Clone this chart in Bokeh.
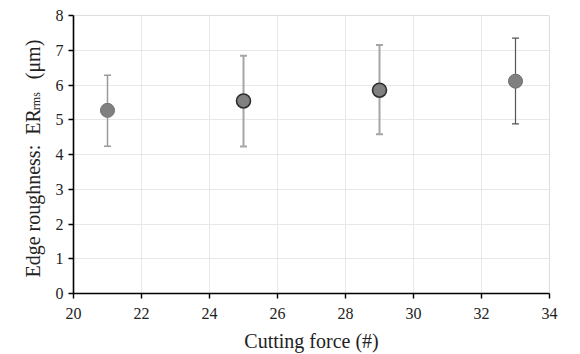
from bokeh.plotting import figure
from bokeh.layouts import row
from bokeh.models import Range1d, FixedTicker, ColumnDataSource
from bokeh.core.properties import value
from bokeh.embed import file_html
from bokeh.resources import INLINE
import math

# Data
force = [21, 25, 29, 33]
er_mean = [5.27, 5.54, 5.85, 6.11]
er_upper = [6.28, 6.84, 7.15, 7.35]
er_lower = [4.24, 4.23, 4.58, 4.88]
bar_colors = ["#9a9a9a", "#a6a6a6", "#a6a6a6", "#555555"]
bar_widths = [1.5, 2.0, 2.0, 1.2]
edge_colors = ["#6f6f6f", "#2e2e2e", "#2e2e2e", "#6f6f6f"]
edge_widths = [1.0, 1.6, 1.6, 1.0]
x_ticks = [20, 22, 24, 26, 28, 30, 32, 34]
y_ticks = [0, 1, 2, 3, 4, 5, 6, 7, 8]
ylabel_parts = ["Edge roughness:\u00a0\u00a0ER", "rms", "(\u03bcm)"]

FONT = "Liberation Serif"
TICK_FONT = "Times New Roman"
H = 354
LW = 50
TOP, BOTTOM = 15, 60
frame_h = H - TOP - BOTTOM
Y0, Y1 = 0, 8

p = figure(width=580 - 8 - LW, height=H, output_backend="svg", toolbar_location=None,
           x_range=Range1d(20, 34), y_range=Range1d(Y0, Y1),
           min_border_left=73 - LW, min_border_right=23, min_border_top=TOP, min_border_bottom=BOTTOM)

p.outline_line_color = "#dedede"
p.outline_line_width = 1

for g in (p.xgrid[0], p.ygrid[0]):
    g.grid_line_color = "#e8e8e8"
    g.grid_line_width = 1

p.xaxis.ticker = FixedTicker(ticks=x_ticks)
p.yaxis.ticker = FixedTicker(ticks=y_ticks)
p.xgrid.ticker = FixedTicker(ticks=x_ticks)
p.ygrid.ticker = FixedTicker(ticks=y_ticks)

for ax in (p.xaxis[0], p.yaxis[0]):
    ax.axis_line_color = "black"
    ax.axis_line_width = 1.6
    ax.major_tick_line_color = "black"
    ax.major_tick_line_width = 1.4
    ax.major_tick_out = 5
    ax.major_tick_in = 0
    ax.minor_tick_out = 0
    ax.minor_tick_in = 0
    ax.major_label_text_font = TICK_FONT
    ax.major_label_text_font_size = "16px"
    ax.major_label_text_color = "#222222"
    ax.major_label_standoff = 5

p.xaxis.major_label_standoff = 9
p.xaxis.axis_label = "Cutting force (#)"
p.xaxis.axis_label_text_font = FONT
p.xaxis.axis_label_text_font_size = "20px"
p.xaxis.axis_label_text_font_style = "normal"
p.xaxis.axis_label_text_color = "#222222"
p.xaxis.axis_label_standoff = 8

src = ColumnDataSource(dict(x=force, y=er_mean, up=er_upper, lo=er_lower,
                            bc=bar_colors, bw=bar_widths, ec=edge_colors, ew=edge_widths))

p.segment(x0="x", y0="lo", x1="x", y1="up", source=src, line_color="bc", line_width="bw")
p.scatter(x="x", y="up", source=src, marker="dash", size=7, line_color="bc", line_width="bw")
p.scatter(x="x", y="lo", source=src, marker="dash", size=7, line_color="bc", line_width="bw")
p.scatter(x="x", y="y", source=src, marker="circle", size=14, fill_color="#808080",
          line_color="ec", line_width="ew")

# y-axis label panel; its frame lines up with the main frame vertically
lab = figure(width=LW, height=H, output_backend="svg", toolbar_location=None,
             x_range=Range1d(0, LW), y_range=Range1d(Y0, Y1),
             x_axis_type=None, y_axis_type=None,
             min_border_left=0, min_border_right=0, min_border_top=TOP, min_border_bottom=BOTTOM)
lab.outline_line_color = None
lab.xgrid.visible = False
lab.ygrid.visible = False


def py_to_data(page_y):
    # convert a canvas pixel row into the shared y data scale
    return Y0 + (H - BOTTOM - page_y) * (Y1 - Y0) / frame_h


lab_src = ColumnDataSource(dict(x=[32.5, 35.0, 32.5],
                                y=[py_to_data(278), py_to_data(110), py_to_data(79)],
                                t=ylabel_parts, s=["20px", "12px", "20px"]))
lab.text(x="x", y="y", text="t", source=lab_src, angle=math.pi / 2,
         text_font=value(FONT), text_font_size="s", text_color="#222222",
         text_align="left", text_baseline="alphabetic")

layout = row(lab, p)
open("out.html", "w").write(file_html(layout, INLINE))
